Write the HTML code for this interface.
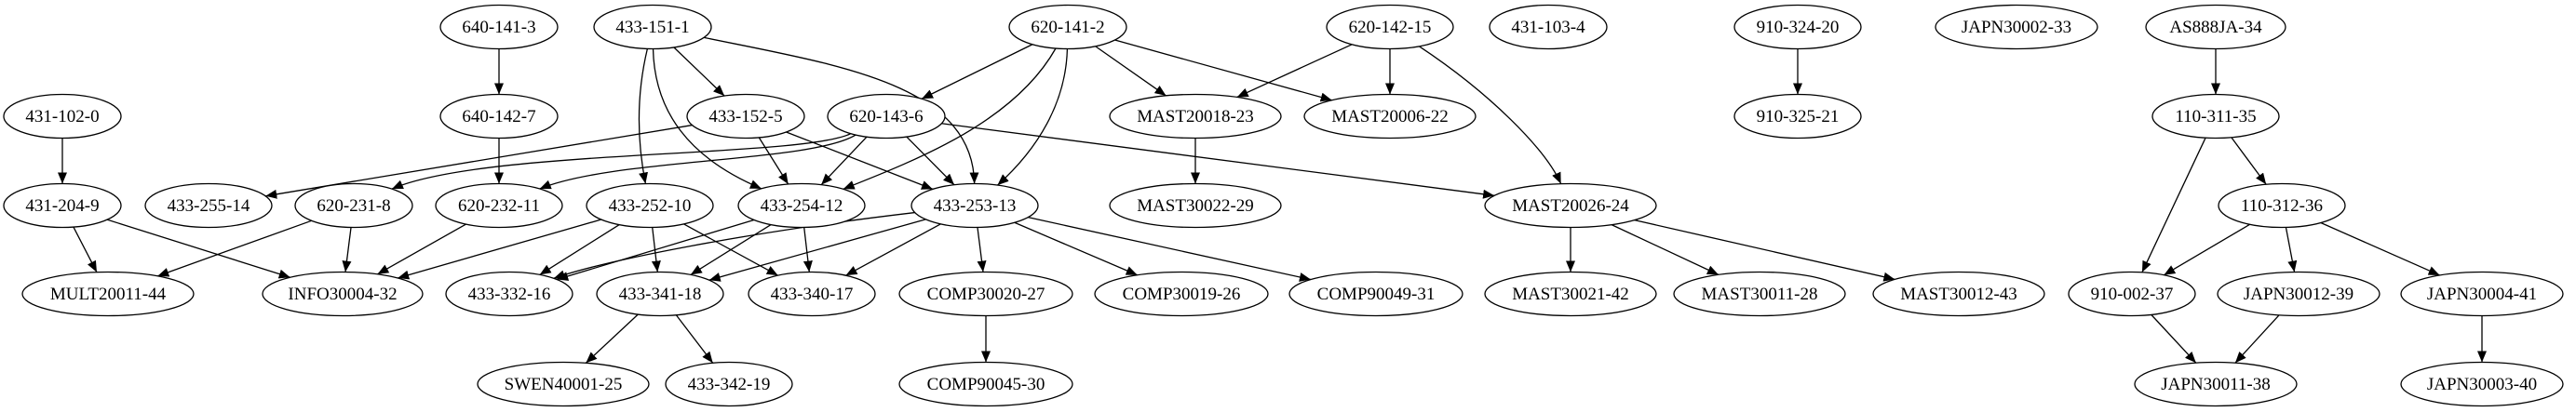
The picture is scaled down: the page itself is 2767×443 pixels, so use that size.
<!DOCTYPE html>
<html><head><meta charset="utf-8">
<style>
html,body{margin:0;padding:0;background:#fff;}
svg{display:block;}
text{font-family:"Liberation Serif",serif;font-size:19px;fill:#000;}
</style></head>
<body>
<svg id="g" width="2767" height="443" viewBox="0 0 2767 443" xmlns="http://www.w3.org/2000/svg">
<defs>
<marker id="ah" markerUnits="userSpaceOnUse" markerWidth="14" markerHeight="10" refX="12" refY="5" orient="auto">
<path d="M0,0 L12,5 L0,10 Z" fill="#000"/>
</marker>
</defs>
<g id="edges"></g>
<g id="nodes"></g>
</svg>
<script>
var R=[29,125,221,316,413];
var N={
"640-141-3":[536,0,63],"433-151-1":[701,0,63],"620-141-2":[1147,0,63],"620-142-15":[1493,0,68],"431-103-4":[1663,0,63],
"910-324-20":[1931,0,68],"JAPN30002-33":[2166,0,87],"AS888JA-34":[2380,0,75],
"431-102-0":[67,1,63],"640-142-7":[536,1,63],"433-152-5":[801,1,63],"620-143-6":[952,1,63],"MAST20018-23":[1284,1,92],
"MAST20006-22":[1493,1,92],"910-325-21":[1931,1,68],"110-311-35":[2380,1,68],
"431-204-9":[67,2,63],"433-255-14":[224,2,68],"620-231-8":[380,2,63],"620-232-11":[536,2,68],"433-252-10":[698,2,68],
"433-254-12":[861,2,68],"433-253-13":[1047,2,68],"MAST30022-29":[1284,2,92],"MAST20026-24":[1687,2,92],"110-312-36":[2451,2,68],
"MULT20011-44":[116,3,92],"INFO30004-32":[368,3,86],"433-332-16":[547,3,68],"433-341-18":[709,3,68],"433-340-17":[872,3,68],
"COMP30020-27":[1059,3,93],"COMP30019-26":[1269,3,93],"COMP90049-31":[1478,3,93],"MAST30021-42":[1687,3,92],
"MAST30011-28":[1890,3,92],"MAST30012-43":[2104,3,92],"910-002-37":[2290,3,68],"JAPN30012-39":[2469,3,87],"JAPN30004-41":[2666,3,87],
"SWEN40001-25":[605,4,92],"433-342-19":[783,4,68],"COMP90045-30":[1059,4,93],"JAPN30011-38":[2380,4,87],"JAPN30003-40":[2666,4,87]
};
var RY=23.5;
var E=[
["640-141-3","640-142-7"],["640-142-7","620-232-11"],["431-102-0","431-204-9"],["431-204-9","MULT20011-44"],["431-204-9","INFO30004-32"],
["620-231-8","MULT20011-44"],["620-231-8","INFO30004-32"],["620-232-11","INFO30004-32"],["433-252-10","INFO30004-32"],
["433-252-10","433-332-16"],["433-252-10","433-341-18"],["433-252-10","433-340-17"],["433-254-12","433-332-16"],
["433-254-12","433-341-18"],["433-254-12","433-340-17"],["433-253-13","433-332-16",[800,250,650,280]],["433-253-13","433-341-18"],
["433-253-13","433-340-17"],["433-253-13","COMP30020-27"],["433-253-13","COMP30019-26"],["433-253-13","COMP90049-31"],
["COMP30020-27","COMP90045-30"],["433-341-18","SWEN40001-25"],["433-341-18","433-342-19"],["433-151-1","433-152-5"],
["433-151-1","433-252-10",[684,100,684,150]],["433-151-1","433-254-12",[703,120,740,170]],
["433-151-1","433-253-13",[900,70,1045,90]],["433-152-5","433-255-14"],["433-152-5","433-254-12"],["433-152-5","433-253-13"],
["620-143-6","620-231-8",[860,170,520,160]],["620-143-6","620-232-11",[870,175,660,170]],["620-143-6","433-254-12"],
["620-143-6","433-253-13"],["620-143-6","MAST20026-24"],["620-141-2","620-143-6"],["620-141-2","433-254-12",[1090,130,990,170]],
["620-141-2","433-253-13",[1145,110,1115,160]],["620-141-2","MAST20018-23"],["620-141-2","MAST20006-22"],
["620-142-15","MAST20018-23"],["620-142-15","MAST20006-22"],["620-142-15","MAST20026-24",[1600,100,1660,160]],
["MAST20018-23","MAST30022-29"],["MAST20026-24","MAST30021-42"],["MAST20026-24","MAST30011-28"],["MAST20026-24","MAST30012-43"],
["910-324-20","910-325-21"],["AS888JA-34","110-311-35"],["110-311-35","910-002-37"],["110-311-35","110-312-36"],
["110-312-36","910-002-37"],["110-312-36","JAPN30012-39"],["110-312-36","JAPN30004-41"],["910-002-37","JAPN30011-38"],
["JAPN30012-39","JAPN30011-38"],["JAPN30004-41","JAPN30003-40"]
];
var NS="http://www.w3.org/2000/svg";
function P(k){var n=N[k];return {x:n[0],y:R[n[1]],rx:n[2]};}
function clip(c,tx,ty){var dx=tx-c.x,dy=ty-c.y;var t=1/Math.sqrt((dx/c.rx)*(dx/c.rx)+(dy/RY)*(dy/RY));return [c.x+dx*t,c.y+dy*t];}
var eg=document.getElementById("edges"),ng=document.getElementById("nodes");
E.forEach(function(e){
 var a=P(e[0]),b=P(e[1]),d;
 if(e[2]){var c=e[2];var s=clip(a,c[0],c[1]),t=clip(b,c[2],c[3]);
  d="M"+s[0]+","+s[1]+" C"+c[0]+","+c[1]+" "+c[2]+","+c[3]+" "+t[0]+","+t[1];}
 else{var s=clip(a,b.x,b.y),t=clip(b,a.x,a.y);d="M"+s[0]+","+s[1]+" L"+t[0]+","+t[1];}
 var p=document.createElementNS(NS,"path");p.setAttribute("d",d);p.setAttribute("fill","none");
 p.setAttribute("stroke","#000");p.setAttribute("stroke-width","1.3");p.setAttribute("marker-end","url(#ah)");eg.appendChild(p);
});
Object.keys(N).forEach(function(k){
 var c=P(k);var el=document.createElementNS(NS,"ellipse");
 el.setAttribute("cx",c.x);el.setAttribute("cy",c.y);el.setAttribute("rx",c.rx);el.setAttribute("ry",RY);
 el.setAttribute("fill","#fff");el.setAttribute("stroke","#000");el.setAttribute("stroke-width","1.3");ng.appendChild(el);
 var t=document.createElementNS(NS,"text");t.setAttribute("x",c.x);t.setAttribute("y",c.y+6);
 t.setAttribute("text-anchor","middle");t.textContent=k;ng.appendChild(t);
});
</script>
</body></html>
